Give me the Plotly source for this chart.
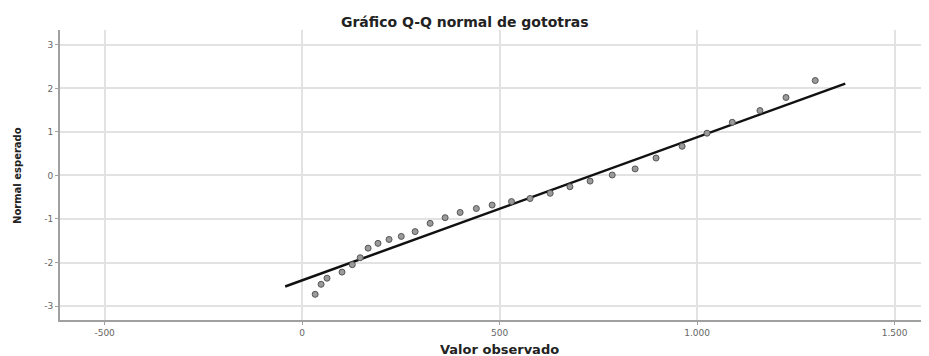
import plotly.graph_objects as go

observed = [33, 48, 63, 101, 127, 147, 167, 192, 220, 251, 286, 324, 362, 400, 441,
            481, 530, 577, 628, 678, 729, 785, 843, 896, 962, 1025, 1089, 1159, 1225, 1299]
expected = [-2.73, -2.50, -2.36, -2.22, -2.05, -1.89, -1.67, -1.56, -1.47, -1.40, -1.29,
            -1.10, -0.97, -0.85, -0.76, -0.68, -0.60, -0.53, -0.41, -0.26, -0.13, 0.01,
            0.15, 0.40, 0.67, 0.97, 1.22, 1.49, 1.79, 2.18]

# Reference normal line endpoints
line_x = [-43, 1375]
line_y = [-2.55, 2.11]

x_tickvals = [-500, 0, 500, 1000, 1500]
x_ticktext = ["-500", "0", "500", "1.000", "1.500"]
y_tickvals = [-3, -2, -1, 0, 1, 2, 3]
y_ticktext = ["-3", "-2", "-1", "0", "1", "2", "3"]

fig = go.Figure()
fig.add_trace(go.Scatter(
    x=line_x, y=line_y, mode="lines",
    line=dict(color="#111111", width=2.5), showlegend=False, hoverinfo="skip"))
fig.add_trace(go.Scatter(
    x=observed, y=expected, mode="markers",
    marker=dict(symbol="circle", size=6, color="#9a9a9a",
                line=dict(color="#555555", width=1)),
    showlegend=False))

axis_common = dict(showgrid=True, gridcolor="#e2e2e2", gridwidth=2,
                   zeroline=False, showline=True, linecolor="#a0a0a0", linewidth=2,
                   ticks="outside", ticklen=3, tickcolor="#a0a0a0",
                   tickfont=dict(family="DejaVu Sans, sans-serif", size=9, color="#666666"))

fig.update_layout(
    width=921, height=348,
    margin=dict(l=52, r=0, t=22, b=36),
    paper_bgcolor="white", plot_bgcolor="white",
    font=dict(family="DejaVu Sans, sans-serif", color="#444444"),
    title=dict(text="<b>Gráfico Q-Q normal de gototras</b>",
               x=0.496, y=0.96, xanchor="center", yanchor="middle",
               font=dict(size=14, color="#222222")),
    xaxis=dict(range=[-613, 1587], tickvals=x_tickvals, ticktext=x_ticktext, **axis_common),
    yaxis=dict(range=[-3.32, 3.34], tickvals=y_tickvals, ticktext=y_ticktext, **axis_common),
    annotations=[
        dict(text="<b>Valor observado</b>", xref="paper", yref="paper",
             x=0.506, y=-0.103, xanchor="center", yanchor="middle",
             showarrow=False, font=dict(size=13, color="#222222")),
        dict(text="<b>Normal esperado</b>", xref="paper", yref="paper",
             x=-0.0495, y=0.5, xanchor="center", yanchor="middle", textangle=-90,
             showarrow=False, font=dict(size=10, color="#222222")),
    ],
)

fig.write_html("out.html")
